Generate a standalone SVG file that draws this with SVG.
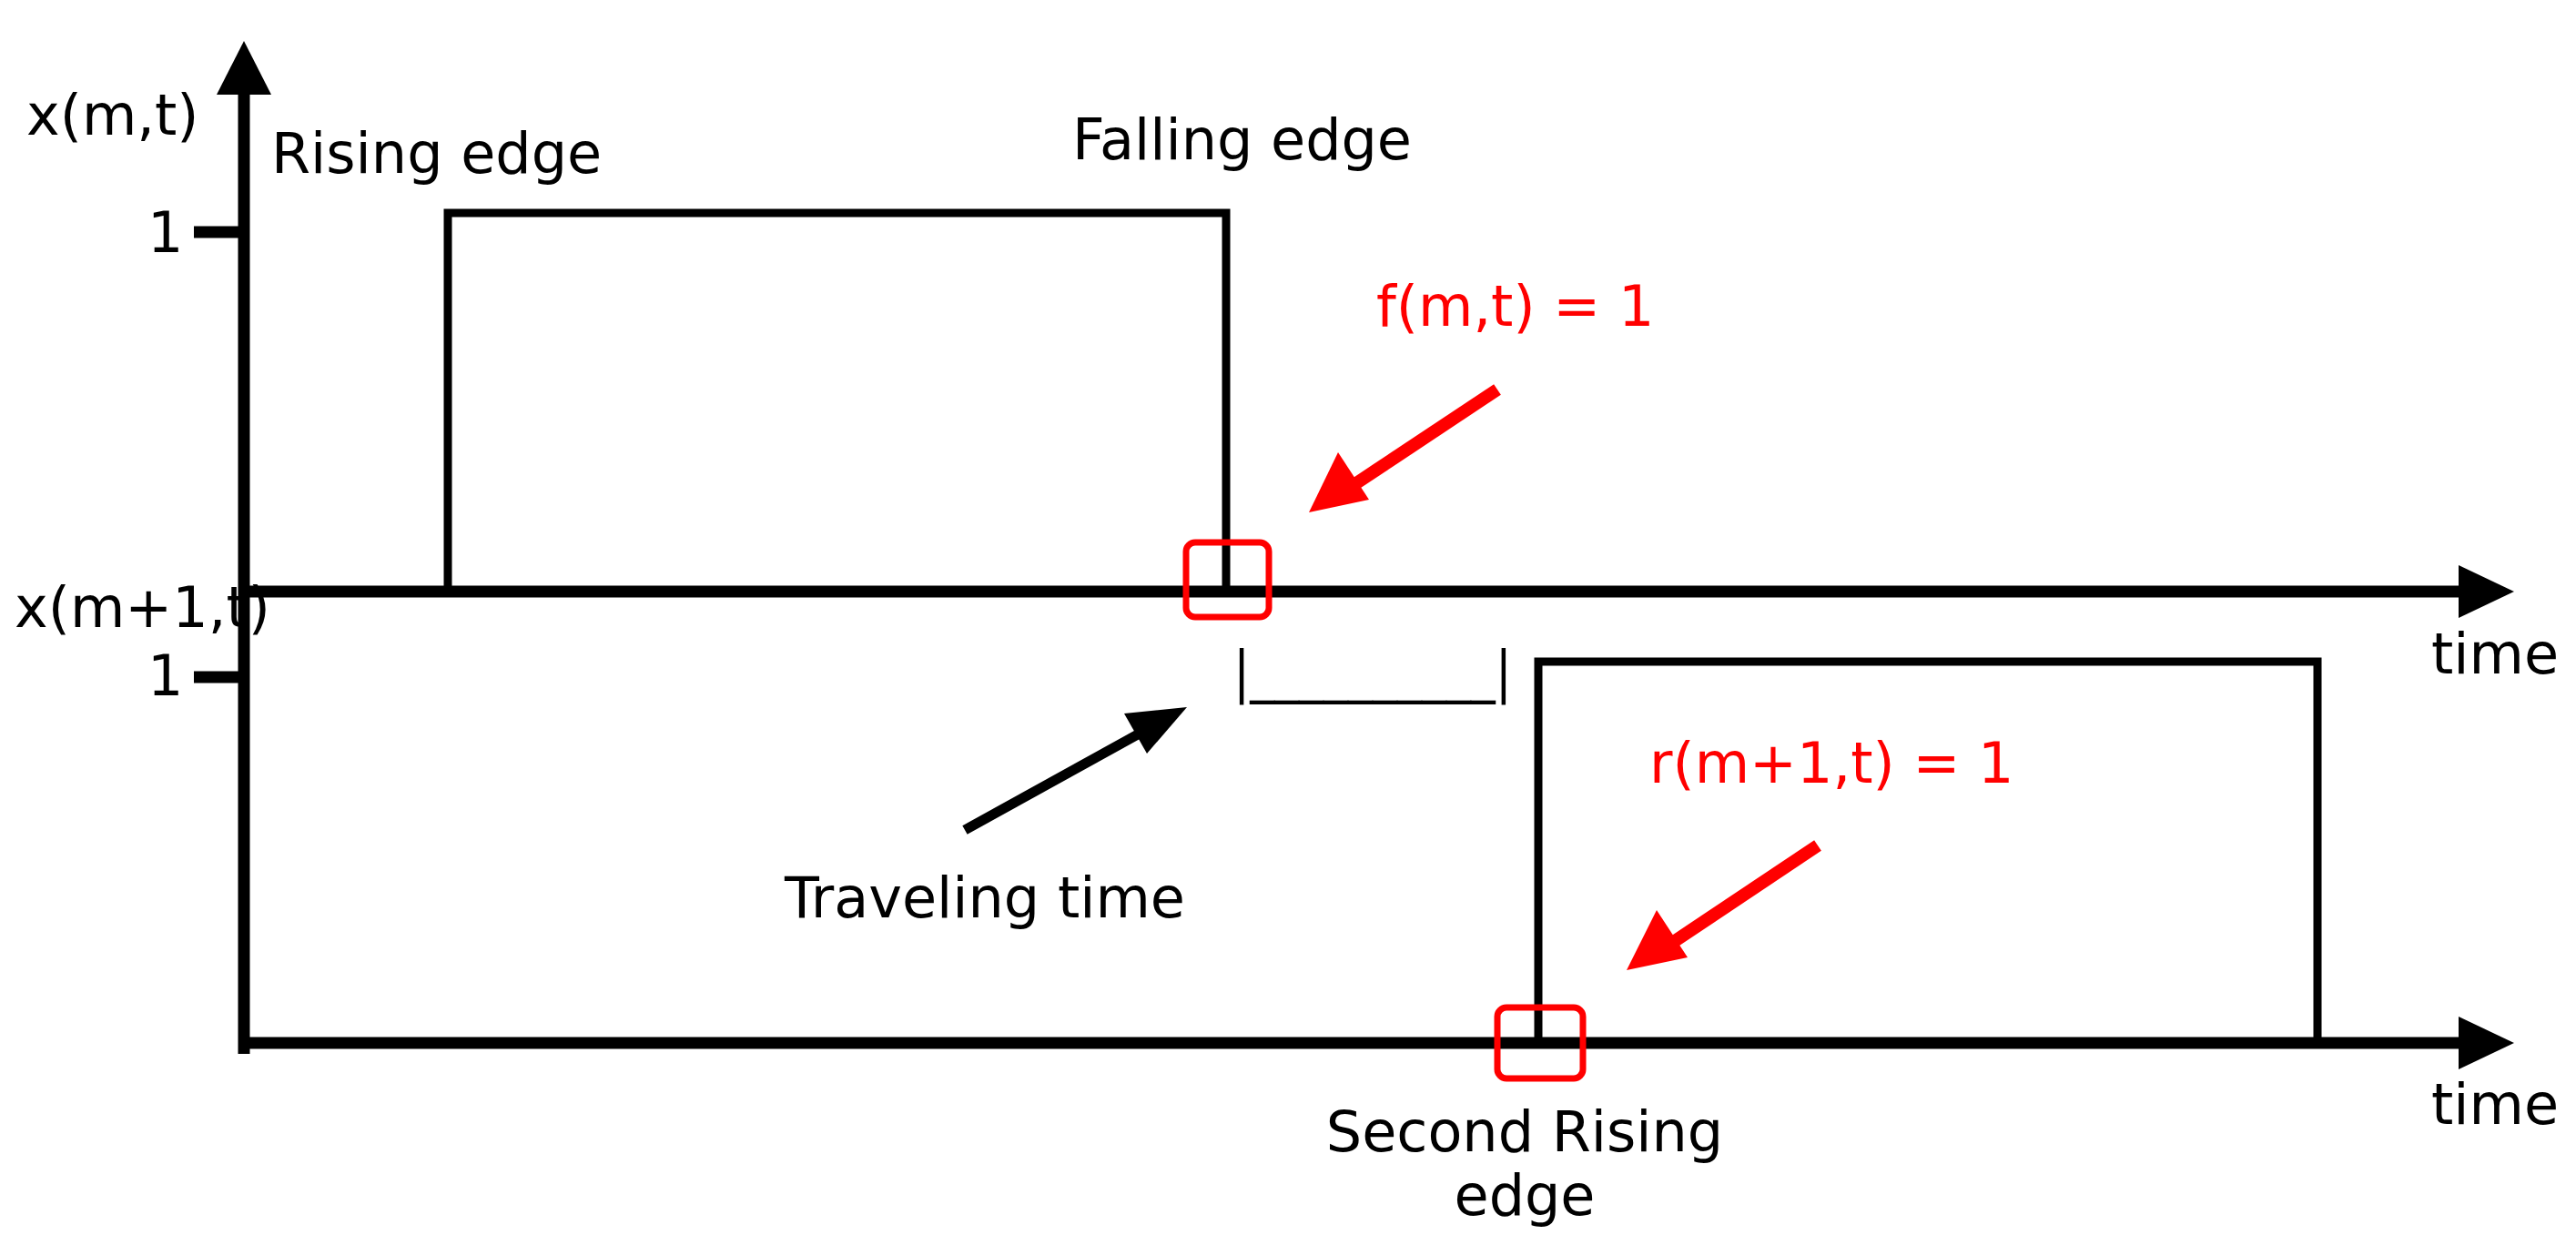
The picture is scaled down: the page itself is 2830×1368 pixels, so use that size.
<svg xmlns="http://www.w3.org/2000/svg" width="2830" height="1368" viewBox="0 0 2830 1368">
<style>
text{font-family:"DejaVu Sans",sans-serif;font-size:62px;fill:#000}
.r{fill:#ff0000}
.ax{stroke:#000;stroke-width:13;fill:none}
.sig{stroke:#000;stroke-width:9;fill:none}
.box{stroke:#ff0000;stroke-width:7;fill:none}
</style>
<rect width="2830" height="1368" fill="#fff"/>
<g id="axes">
<line class="ax" x1="268" y1="100" x2="268" y2="1158"/>
<polygon points="268,45 238,104 298,104"/>
<line class="ax" x1="262" y1="650" x2="2705" y2="650"/>
<polygon points="2762,650 2701,621 2701,679"/>
<line class="ax" x1="262" y1="1146" x2="2705" y2="1146"/>
<polygon points="2762,1146 2701,1117 2701,1175"/>
<line class="ax" x1="213" y1="255" x2="268" y2="255"/>
<line class="ax" x1="213" y1="744" x2="268" y2="744"/>
</g>
<g id="signals">
<polyline class="sig" points="492,650 492,234 1347,234 1347,650"/>
<polyline class="sig" points="1690,1146 1690,727 2546,727 2546,1146"/>
</g>
<g id="markers">
<rect class="box" x="1303" y="596" width="91" height="82" rx="10"/>
<rect class="box" x="1645" y="1107" width="94" height="78" rx="10"/>
</g>
<g id="connectors">
<line x1="1060" y1="912" x2="1268" y2="797" stroke="#000" stroke-width="11"/>
<polygon points="1304,777 1235,784 1260,828" />
<line x1="1645" y1="428" x2="1490" y2="531" stroke="#ff0000" stroke-width="14"/>
<polygon points="1438,563 1470,497 1504,549" fill="#ff0000"/>
<line x1="1997" y1="929" x2="1840" y2="1034" stroke="#ff0000" stroke-width="14"/>
<polygon points="1787,1066 1820,1000 1854,1052" fill="#ff0000"/>
</g>
<g id="labels">
<text x="29" y="148">x(m,t)</text>
<text x="298" y="190">Rising edge</text>
<text x="1178" y="175">Falling edge</text>
<text x="162" y="277">1</text>
<text x="162" y="764">1</text>
<text x="16" y="689" font-size="44">x(m+1,t)</text>
<text x="1355" y="759" font-size="52" textLength="306" lengthAdjust="spacingAndGlyphs">|__________|</text>
<text x="862" y="1008">Traveling time</text>
<text x="2671" y="740">time</text>
<text x="2671" y="1235">time</text>
<text x="1675" y="1265" text-anchor="middle">Second Rising</text>
<text x="1675" y="1335" text-anchor="middle">edge</text>
<text class="r" x="1512" y="358">f(m,t) = 1</text>
<text class="r" x="1812" y="860">r(m+1,t) = 1</text>
</g>
</svg>
